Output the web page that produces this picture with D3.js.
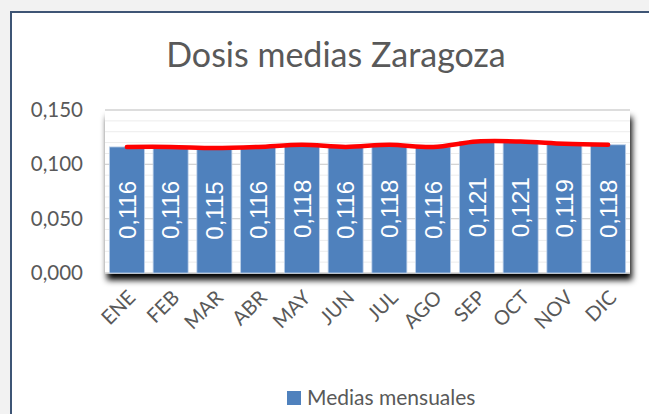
<!DOCTYPE html>
<html>
<head>
<meta charset="utf-8">
<script src="https://cdn.jsdelivr.net/npm/d3@7.9.0/dist/d3.min.js"></script>
<style>
  body { margin: 0; background: #f2f2f2; }
  svg { display: block; }
</style>
</head>
<body>
<svg id="chart" width="649" height="414"></svg>
<script>
// chart data
const months = ['ENE', 'FEB', 'MAR', 'ABR', 'MAY', 'JUN', 'JUL', 'AGO', 'SEP', 'OCT', 'NOV', 'DIC'];
const medias = [0.116, 0.116, 0.115, 0.116, 0.118, 0.116, 0.118, 0.116, 0.121, 0.121, 0.119, 0.118];
const yTicks = [0, 0.05, 0.1, 0.15];
const minorTicks = d3.range(0, 0.151, 0.01);
const title = 'Dosis medias Zaragoza';
const legendLabel = 'Medias mensuales';

const svg = d3.select('#chart');
const fmt = v => d3.format('.3f')(v).replace('.', ',');

// chart frame (only top and left edges are visible)
svg.append('rect')
  .attr('x', 11).attr('y', 12)
  .attr('width', 660).attr('height', 420)
  .attr('fill', '#fff')
  .attr('stroke', '#3e5575')
  .attr('stroke-width', 2);

const plot = { left: 105, right: 630, top: 110, bottom: 273 };

const x = d3.scaleBand()
  .domain(months)
  .range([plot.left, plot.right])
  .paddingInner(0.2)
  .paddingOuter(0.1);

const y = d3.scaleLinear()
  .domain([0, 0.15])
  .range([plot.bottom, plot.top]);

// shadow for the plot area
const defs = svg.append('defs');
const f = defs.append('filter').attr('id', 'shadow')
  .attr('x', '-5%').attr('y', '-10%').attr('width', '110%').attr('height', '130%');
f.append('feDropShadow')
  .attr('dx', 2).attr('dy', 7)
  .attr('stdDeviation', 3)
  .attr('flood-color', '#000')
  .attr('flood-opacity', 1);

svg.append('rect')
  .attr('x', plot.left).attr('y', plot.top)
  .attr('width', plot.right - plot.left)
  .attr('height', plot.bottom - plot.top)
  .attr('fill', '#fff')
  .attr('filter', 'url(#shadow)');

// minor grid
svg.append('g')
  .selectAll('line')
  .data(minorTicks)
  .join('line')
  .attr('x1', plot.left).attr('x2', plot.right)
  .attr('y1', d => y(d)).attr('y2', d => y(d))
  .attr('stroke', '#ececec')
  .attr('stroke-width', 1);

// major grid
svg.append('g')
  .selectAll('line')
  .data(yTicks)
  .join('line')
  .attr('x1', plot.left).attr('x2', plot.right)
  .attr('y1', d => y(d)).attr('y2', d => y(d))
  .attr('stroke', '#d4d4d4')
  .attr('stroke-width', 1.3);

// y axis labels
const yAxis = svg.append('g')
  .attr('transform', `translate(${plot.left - 22},0)`)
  .call(d3.axisLeft(y).tickValues(yTicks).tickFormat(fmt).tickSize(0).tickPadding(0));
yAxis.select('.domain').remove();
yAxis.selectAll('text')
  .attr('fill', '#595959')
  .attr('font-family', 'Lato, "Open Sans", sans-serif')
  .attr('font-size', 20.5);

// bars
svg.append('g')
  .selectAll('rect')
  .data(medias)
  .join('rect')
  .attr('x', (d, i) => x(months[i]))
  .attr('y', d => y(d))
  .attr('width', x.bandwidth())
  .attr('height', d => y(0) - y(d))
  .attr('fill', '#4f81bd')
  .attr('stroke', '#bcd0e8')
  .attr('stroke-width', 0.8);

// bar labels
svg.append('g')
  .selectAll('text')
  .data(medias)
  .join('text')
  .attr('transform', (d, i) => {
    const cx = x(months[i]) + x.bandwidth() / 2;
    const cy = (y(d) + y(0)) / 2;
    return `translate(${cx},${cy}) rotate(-90)`;
  })
  .attr('text-anchor', 'middle')
  .attr('dy', '0.36em')
  .attr('fill', '#fff')
  .attr('font-family', '"Liberation Sans", Arial, sans-serif')
  .attr('font-size', 24)
  .text(d => fmt(d));

// red line
const line = d3.line()
  .x((d, i) => x(months[i]) + x.bandwidth() / 2)
  .y(d => y(d))
  .curve(d3.curveCatmullRom);

svg.append('path')
  .datum(medias)
  .attr('d', line)
  .attr('fill', 'none')
  .attr('stroke', '#ff0000')
  .attr('stroke-width', 4.5)
  .attr('stroke-linecap', 'round');

// x axis labels
svg.append('g')
  .selectAll('text')
  .data(months)
  .join('text')
  .attr('transform', d => `translate(${x(d) + x.bandwidth() / 2},${plot.bottom + 16}) rotate(-45)`)
  .attr('text-anchor', 'end')
  .attr('dy', '0.7em')
  .attr('fill', '#595959')
  .attr('font-family', 'Lato, "Open Sans", sans-serif')
  .attr('font-size', 20)
  .text(d => d);

// title
svg.append('text')
  .attr('x', 336).attr('y', 67)
  .attr('text-anchor', 'middle')
  .attr('fill', '#595959')
  .attr('font-family', 'Lato, "Open Sans", sans-serif')
  .attr('font-size', 34)
  .text(title);

// legend
const lg = svg.append('g').attr('transform', 'translate(287,391)');
lg.append('rect')
  .attr('width', 14).attr('height', 14)
  .attr('fill', '#4f81bd');
lg.append('text')
  .attr('x', 20).attr('y', 14)
  .attr('fill', '#595959')
  .attr('font-family', 'Lato, "Open Sans", sans-serif')
  .attr('font-size', 21)
  .text(legendLabel);
</script>
</body>
</html>
